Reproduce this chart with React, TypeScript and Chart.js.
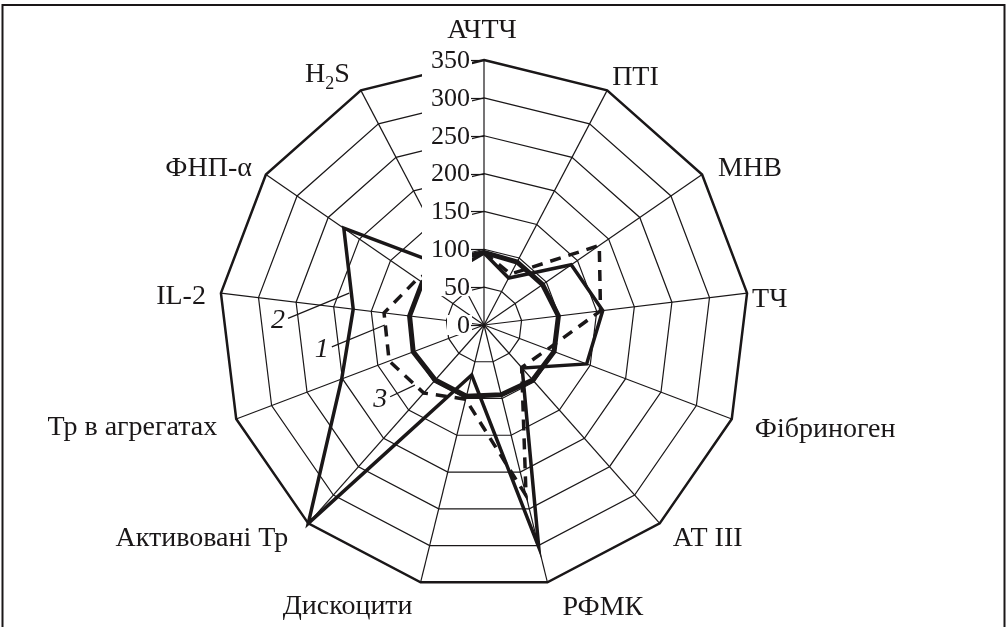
import React, { useEffect, useRef } from "react";
import { Chart, registerables } from "chart.js";

Chart.register(...registerables);

// ---- data ----
const categories = [
  "АЧТЧ",
  "ПТІ",
  "МНВ",
  "ТЧ",
  "Фібриноген",
  "АТ III",
  "РФМК",
  "Дискоцити",
  "Активовані Тр",
  "Тр в агрегатах",
  "IL-2",
  "ФНП-α",
  "H₂S",
];
const series1 = [96, 76, 185, 155, 90, 75, 232, 101, 120, 134, 133, 107, 95]; // dashed
const series2 = [95, 70, 140, 158, 145, 76, 302, 68, 350, 201, 174, 225, 82]; // medium solid
const series3 = [96, 94, 94, 99, 99, 97, 95, 97, 97, 100, 99, 99, 96]; // thick solid
const seriesTags = ["1", "2", "3"];
const tickValues = [0, 50, 100, 150, 200, 250, 300, 350];

// ---- layout (not data) ----
// label offset from the outer vertex: [dx, dy(baseline), align]
const labelLayout: [number, number, CanvasTextAlign][] = [
  [-2, -22, "center"],
  [5, -5, "left"],
  [16, 2, "left"],
  [5, 14, "left"],
  [23, 18, "left"],
  [13, 23, "left"],
  [15, 33, "left"],
  [-8, 32, "right"],
  [-20, 23, "right"],
  [-19, 16, "right"],
  [-15, 11, "right"],
  [-14, 2, "right"],
  [-11, -8, "right"],
];
// leader lines of series tags: [fractional axis index, value]
const tagStart: [number, number][] = [
  [9.455, 203],
  [9.82, 259],
  [8.4, 156],
];
const tagEnd: [number, number][] = [
  [9.75, 131],
  [10.23, 183],
  [8.27, 121],
];

const INK = "#1a1718";
const SERIF = '"Liberation Serif", "Times New Roman", serif';
const LABEL_SIZE = 28;

function drawRich(
  ctx: CanvasRenderingContext2D,
  text: string,
  x: number,
  y: number,
  align: CanvasTextAlign,
  size: number
) {
  const subs = "₀₁₂₃₄₅₆₇₈₉";
  const parts: { t: string; sub: boolean }[] = [];
  for (const ch of text) {
    const si = subs.indexOf(ch);
    const sub = si >= 0;
    const t = sub ? String(si) : ch;
    const last = parts[parts.length - 1];
    if (last && last.sub === sub) last.t += t;
    else parts.push({ t, sub });
  }
  const fontFor = (sub: boolean) => `${sub ? Math.round(size * 0.66) : size}px ${SERIF}`;
  let total = 0;
  const widths = parts.map((p) => {
    ctx.font = fontFor(p.sub);
    const w = ctx.measureText(p.t).width;
    total += w;
    return w;
  });
  let cx = align === "center" ? x - total / 2 : align === "right" ? x - total : x;
  ctx.textAlign = "left";
  parts.forEach((p, i) => {
    ctx.font = fontFor(p.sub);
    ctx.fillText(p.t, cx, p.sub ? y + size * 0.22 : y);
    cx += widths[i];
  });
}

export default function App() {
  const ref = useRef<HTMLCanvasElement>(null);

  useEffect(() => {
    const canvas = ref.current;
    if (!canvas) return;

    const decor = {
      id: "decor",
      beforeDraw(chart: any) {
        const ctx = chart.ctx as CanvasRenderingContext2D;
        ctx.save();
        ctx.strokeStyle = INK;
        ctx.lineWidth = 2;
        ctx.strokeRect(2.5, 5, 1002, 700);
        ctx.restore();
      },
      afterDatasetsDraw(chart: any) {
        const ctx = chart.ctx as CanvasRenderingContext2D;
        const s = chart.scales.r;
        const xc = s.xCenter;
        const yc = s.yCenter;
        const yOf = (v: number) => yc - s.getDistanceFromCenterForValue(v);
        ctx.save();

        // white column behind tick labels
        ctx.fillStyle = "#ffffff";
        const topV = tickValues[tickValues.length - 1];
        ctx.fillRect(xc - 62, yOf(topV) - 10, 50, yOf(50) + 9 - (yOf(topV) - 10));
        ctx.fillRect(xc - 37, yOf(0) - 10, 25, 20);

        // tick marks and labels
        ctx.strokeStyle = INK;
        ctx.lineWidth = 1.2;
        ctx.fillStyle = INK;
        ctx.font = `26px ${SERIF}`;
        ctx.textAlign = "right";
        ctx.textBaseline = "middle";
        tickValues.forEach((v) => {
          const y = yOf(v);
          ctx.beginPath();
          ctx.moveTo(xc - 13, Math.round(y) + 0.5);
          ctx.lineTo(xc, Math.round(y) + 0.5);
          ctx.stroke();
          ctx.fillText(String(v), xc - 14, y + 1);
        });

        // category labels
        ctx.textBaseline = "alphabetic";
        const R = s.drawingArea;
        categories.forEach((lab, i) => {
          const p = s.getPointPosition(i, R);
          const [dx, dy, al] = labelLayout[i];
          drawRich(ctx, lab, p.x + dx, p.y + dy, al, LABEL_SIZE);
        });

        // series tags with leader lines
        seriesTags.forEach((tag, k) => {
          const a = s.getPointPosition(tagStart[k][0], s.getDistanceFromCenterForValue(tagStart[k][1]));
          const b = s.getPointPosition(tagEnd[k][0], s.getDistanceFromCenterForValue(tagEnd[k][1]));
          ctx.beginPath();
          ctx.lineWidth = 1.2;
          ctx.moveTo(a.x, a.y);
          ctx.lineTo(b.x, b.y);
          ctx.stroke();
          ctx.font = `italic ${LABEL_SIZE}px ${SERIF}`;
          ctx.textAlign = "right";
          ctx.fillText(tag, a.x - 3, a.y + 10);
        });
        ctx.restore();
      },
    };

    const chart = new Chart(canvas, {
      type: "radar",
      data: {
        labels: categories,
        datasets: [
          {
            label: seriesTags[2],
            data: series3,
            borderColor: INK,
            borderWidth: 5,
            fill: false,
          },
          {
            label: seriesTags[1],
            data: series2,
            borderColor: INK,
            borderWidth: 3.5,
            fill: false,
          },
          {
            label: seriesTags[0],
            data: series1,
            borderColor: INK,
            borderWidth: 3.5,
            borderDash: [11, 8],
            fill: false,
          },
        ],
      },
      options: {
        responsive: false,
        animation: false,
        layout: { padding: { top: 60, bottom: 37, left: 100, right: 139 } },
        plugins: {
          legend: { display: false },
          tooltip: { enabled: false },
        },
        elements: {
          point: { radius: 0, hoverRadius: 0 },
          line: { tension: 0, borderJoinStyle: "miter" },
        },
        scales: {
          r: {
            min: 0,
            max: 350,
            ticks: { stepSize: 50, display: false },
            pointLabels: { display: false },
            grid: {
              color: INK,
              lineWidth: (c: any) => (c.tick && c.tick.value === 350 ? 2.5 : 1.2),
            },
            angleLines: { color: INK, lineWidth: 1.2 },
          },
        },
      },
      plugins: [decor],
    } as any);

    return () => chart.destroy();
  }, []);

  return (
    <div
      style={{
        position: "fixed",
        left: 0,
        top: 0,
        width: 1007,
        height: 627,
        background: "#ffffff",
      }}
    >
      <canvas ref={ref} width={1007} height={627} style={{ display: "block", width: 1007, height: 627 }} />
    </div>
  );
}
